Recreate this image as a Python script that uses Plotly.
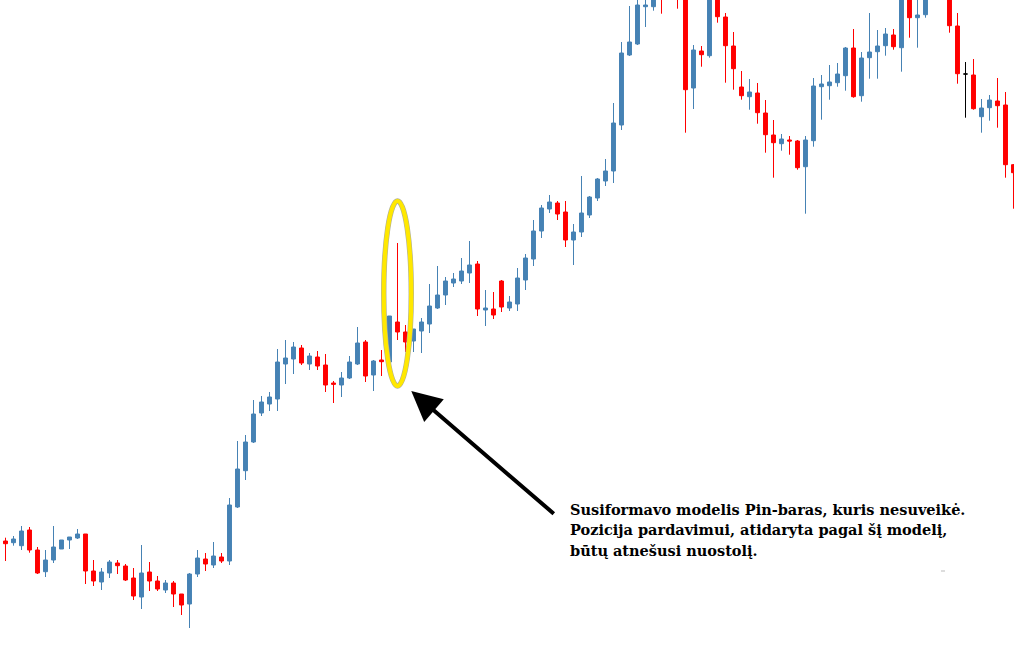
import plotly.graph_objects as go

# Candle data (arbitrary price units; higher = higher price)
opens = [131, 129.3, 126.3, 142, 122, 100.3, 112, 123, 132, 134,
         138, 101, 90, 99, 109, 106, 94, 75, 100, 91,
         82, 89, 78, 68, 98, 113, 107, 115, 111, 165,
         201.3, 230, 259, 268, 273, 308, 313, 324, 308, 315,
         307, 289, 287, 294, 308, 330, 297, 312, 310, 350,
         340, 331, 341, 348, 364, 377, 389, 391, 399, 408,
         362, 363, 391, 364, 368, 392, 413, 441, 463, 469,
         460, 432, 440, 457, 474, 491, 501, 547, 617, 628,
         665.3, 665.3, 682, 677, 690, 677, 584, 621, 616.3, 684,
         655, 626, 585, 575.3, 579, 559, 537, 528.3, 532, 531,
         505.3, 531.3, 585.3, 586.3, 589.3, 596.3, 624, 576.3, 614.3, 620.3,
         626.3, 637, 624.3, 680, 654.3, 657.3, 680, 694, 675, 646,
         598, 597, 555.3, 564.3, 571, 567, 507.3]

closes = [128.3, 133, 141, 122, 99, 112, 125, 132, 135, 138,
          101, 91, 100, 110, 106.3, 92, 76, 99, 91, 83,
          89, 78, 67, 98, 114, 108, 116, 111, 167, 203,
          230, 258, 270, 275, 310, 314, 325, 309, 316, 306,
          287, 287.7, 294, 310, 329, 296, 311, 310.3, 356, 340,
          330, 343, 350, 366, 377, 391, 393, 401, 407, 363,
          364, 357, 365, 370, 394, 414, 441, 464, 470, 458,
          432, 440, 459, 475, 493, 501, 549, 619, 630, 667,
          667, 684, 675, 692, 674, 582.3, 622, 617.3, 687, 655.3,
          626.3, 603.3, 576.3, 580, 559.3, 537.3, 529.3, 533, 531, 504.3,
          532, 586, 588, 590, 598, 624, 575.3, 614, 620, 626,
          638, 625.3, 682, 654.3, 657, 680, 697, 677, 646.3, 598.3,
          598, 563.3, 564, 572, 566.3, 507.3, 499.3]

highs = [134.3, 136, 146, 145, 125, 122, 146, 132, 135, 143,
         138, 112, 104, 112, 112, 108, 104, 127, 110, 96,
         92, 91, 78, 99, 122, 119, 130, 119, 174, 231,
         237, 272, 276, 280, 323, 332, 330, 327, 319, 321,
         318, 291, 300, 316, 345, 332, 312, 322, 356, 429,
         347, 343, 354, 388, 406, 395, 399, 414, 431, 411,
         382, 380, 392, 376, 404, 418, 452, 467, 477, 471,
         471, 448, 496, 476, 494, 513, 569, 630, 666, 680,
         677, 692, 690, 700, 697, 680, 627, 626, 694, 690,
         659, 640, 601, 593, 589, 572, 552, 538, 536, 532,
         536, 594, 597, 607, 609, 625, 643, 620, 659, 642,
         644, 643, 692, 687, 677, 687, 702, 700, 682, 659,
         610, 613, 573, 577, 594, 580, 508]

lows = [111, 126.3, 122, 119.3, 98, 95, 109, 123, 123, 133,
        88, 86, 82, 94, 98, 91, 72, 63, 81, 81,
        79, 65, 57, 44, 95, 101, 104, 109, 107, 164,
        192, 229, 256, 261, 261, 288, 298, 307, 302, 302,
        280, 269, 275, 293, 307, 290, 281, 296, 310, 332,
        320, 320, 319, 339, 363, 367, 385, 388, 389, 356,
        346, 353, 360, 361, 361, 382, 406, 434, 459, 452,
        425, 407, 435, 454, 471, 486, 489, 542, 616, 627,
        645, 661.3, 658.3, 674, 663.3, 539.3, 563, 605.3, 614.3, 649.3,
        589.3, 582.3, 572.3, 562.3, 548.3, 519.3, 494.3, 521.3, 517.3, 502.3,
        458.3, 525.3, 552.3, 572.3, 585.3, 581.3, 574.3, 570.3, 593.3, 593.3,
        616.3, 622.3, 600.3, 634.3, 624.3, 654.3, 675, 673, 639.3, 588.3,
        554.3, 562.3, 539.3, 551.3, 544.3, 494.3, 463.3]

pin_bar_index = 49
note_lines = ["Susiformavo modelis Pin-baras, kuris nesuveikė.",
              "Pozicija pardavimui, atidaryta pagal šį modelį,",
              "būtų atnešusi nuostolį."]

BLUE = "#4682B4"
RED = "#FF0000"

n = len(opens)
idx = list(range(n))
is_doji = [o == c for o, c in zip(opens, closes)]
main = [i for i in idx if not is_doji[i]]
flat = [i for i in idx if is_doji[i]]

fig = go.Figure()
fig.add_trace(go.Candlestick(
    x=main,
    open=[opens[i] for i in main], high=[highs[i] for i in main],
    low=[lows[i] for i in main], close=[closes[i] for i in main],
    increasing=dict(line=dict(color=BLUE, width=1), fillcolor=BLUE),
    decreasing=dict(line=dict(color=RED, width=1), fillcolor=RED),
    showlegend=False, hoverinfo="skip",
))
fig.add_trace(go.Candlestick(
    x=flat,
    open=[opens[i] for i in flat], high=[highs[i] for i in flat],
    low=[lows[i] for i in flat], close=[closes[i] for i in flat],
    increasing=dict(line=dict(color="black", width=1), fillcolor="black"),
    decreasing=dict(line=dict(color="black", width=1), fillcolor="black"),
    showlegend=False, hoverinfo="skip",
))

# Ellipse around the pin bar
pb_hi = highs[pin_bar_index]
ell = dict(type="circle", xref="x", yref="y",
           x0=pin_bar_index - 1.72, x1=pin_bar_index + 1.72,
           y0=286, y1=pb_hi + 42)
fig.add_shape(**ell, line=dict(color="#b0b098", width=5.4))
fig.add_shape(**ell, line=dict(color="#FFE800", width=4.2))

# Arrow pointing at the ellipse bottom
fig.add_annotation(x=pin_bar_index + 1.72, y=281, xref="x", yref="y",
                   ax=144, ay=124, text="", showarrow=True,
                   arrowhead=2, arrowsize=1.5, arrowwidth=4,
                   arrowcolor="black", standoff=0)

line_tops = [498.5, 519, 539.5]
for t, top in zip(note_lines, line_tops):
    fig.add_annotation(x=568 / 1014, y=1 - top / 672, xref="paper", yref="paper",
                       xanchor="left", yanchor="top", align="left", showarrow=False,
                       text="<b>" + t + "</b>",
                       font=dict(family="DejaVu Serif", size=14.5, color="black"))

fig.add_shape(type="line", xref="paper", yref="paper",
              x0=941 / 1014, x1=945 / 1014, y0=1 - 571 / 672, y1=1 - 571 / 672,
              line=dict(color="#bbbbbb", width=1))

fig.update_layout(
    width=1014, height=672,
    margin=dict(l=0, r=0, t=0, b=0),
    paper_bgcolor="white", plot_bgcolor="white",
    xaxis=dict(range=[-0.6875, 126.0625], visible=False, rangeslider=dict(visible=False)),
    yaxis=dict(range=[0, 672], visible=False),
)

fig.write_html("out.html", config={"displayModeBar": False, "staticPlot": True},
               post_script="document.body.style.margin='0';document.body.style.overflow='hidden';")
